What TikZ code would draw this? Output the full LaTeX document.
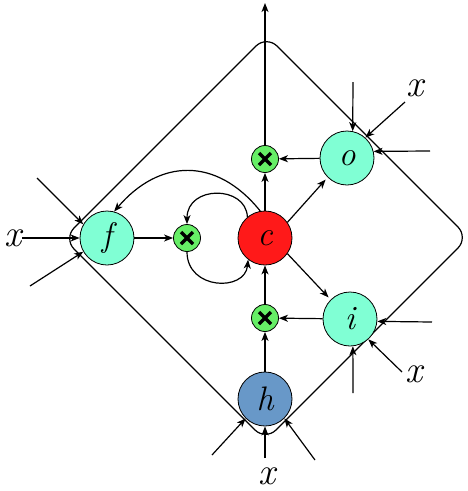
\documentclass[tikz,border=0pt]{standalone}
\usetikzlibrary{arrows.meta}
\definecolor{aqua}{RGB}{128,255,212}
\definecolor{cred}{RGB}{255,25,25}
\definecolor{multgreen}{RGB}{102,238,102}
\definecolor{hblue}{RGB}{104,152,200}
\begin{document}
\begin{tikzpicture}[x=1pt,y=-1pt,line width=1.2pt,
  arr/.style={-{Stealth[length=9pt,width=7pt,inset=2.5pt]}},
  gate/.style={circle,draw,line width=0.8pt,minimum size=54pt,inner sep=0pt,
    font=\fontsize{34}{34}\selectfont\itshape},
  mult/.style={circle,draw,line width=0.8pt,fill=multgreen,minimum size=27pt,inner sep=0pt,
    path picture={\draw[line width=3.4pt]
      (path picture bounding box.center) ++(-6pt,-6pt) -- ++(12pt,12pt)
      (path picture bounding box.center) ++(-6pt,6pt) -- ++(12pt,-12pt);}},
  xlab/.style={inner sep=0pt,font=\fontsize{38}{38}\selectfont\itshape}]
\useasboundingbox (0,0) rectangle (468,491);

% frame (rotated rounded square)
\coordinate (T) at (266.5,35.5);
\coordinate (R) at (468.5,237.5);
\coordinate (B) at (265.5,440.5);
\coordinate (L) at (63.5,238.5);
\coordinate (TRm) at (367.5,136.5);
\draw[rounded corners=15pt] (TRm) -- (R) -- (B) -- (L) -- (T) -- (TRm);

% nodes
\node[gate,fill=aqua] (f) at (107,238) {f};
\node[gate,fill=cred] (c) at (265,238) {c};
\node[gate,fill=aqua] (o) at (347,158) {o};
\node[gate,fill=aqua] (i) at (350,319) {i};
\node[gate,fill=hblue] (h) at (265,399) {h};
\node[mult] (m1) at (265,159) {};
\node[mult] (m2) at (187,238) {};
\node[mult] (m3) at (265,318) {};

\node[xlab] (xf) at (13,238) {x};
\node[xlab] (xo) at (415,88) {x};
\node[xlab] (xi) at (414,374) {x};
\node[xlab] (xh) at (267,476) {x};

% free ends
\coordinate (out) at (265,3);
\coordinate (fa) at (37,178);
\coordinate (fb) at (30,286);
\coordinate (oa) at (353,82);
\coordinate (ob) at (405,102);
\coordinate (oc) at (430,151);
\coordinate (ia) at (432,322);
\coordinate (ib) at (402,372);
\coordinate (ic) at (353,393);
\coordinate (ha) at (212,455);
\coordinate (hb) at (315,460);
\coordinate (hc) at (265,458);

% inputs
\draw[arr] (xf) -- (f);
\draw[arr] (fa) -- (f.150);
\draw[arr] (fb) -- (f.210);
\draw[arr] (oa) -- (o.78);
\draw[arr] (ob) -- (o.48);
\draw[arr] (oc) -- (o.14);
\draw[arr] (ia) -- (i.-5);
\draw[arr] (ib) -- (i.-48);
\draw[arr] (ic) -- (i.-84);
\draw[arr] (ha) -- (h.225);
\draw[arr] (hb) -- (h.-45);
\draw[arr] (hc) -- (h.south);

% internal connections
\draw[arr] (f) -- (m2);
\draw[arr] (c) -- (m1);
\draw[arr] (m1) -- (out);
\draw[arr] (o) -- (m1);
\draw[arr,shorten >=3pt] (c.35) -- (o.225);
\draw[arr,shorten >=3pt] (c.-35) -- (i.135);
\draw[arr] (i) -- (m3);
\draw[arr] (h) -- (m3);
\draw[arr] (m3) -- (c);
\draw[arr] (c.100) .. controls (216,156) and (159,159) .. (f.75);
\draw[arr] (c.130) .. controls (246,185) and (187,185) .. (m2.north);
\draw[arr] (m2.south) .. controls (187,290) and (245,292) .. (c.232);
\end{tikzpicture}
\end{document}
